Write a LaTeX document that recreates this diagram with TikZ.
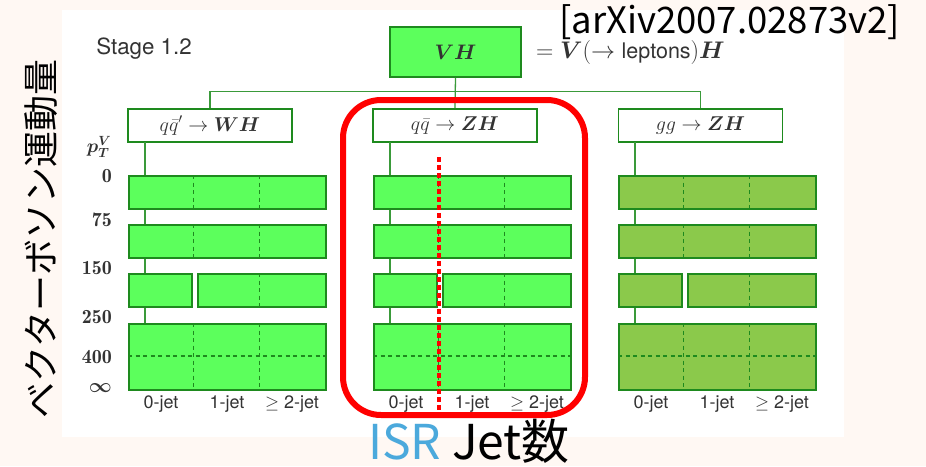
\RequirePackage{fix-cm}
\documentclass[tikz,border=0pt]{standalone}
\usepackage{fontspec}
\usepackage{amsmath}
\setsansfont{TeX Gyre Heros}
\newfontfamily\cjk{Noto Sans CJK JP}
\definecolor{cream}{HTML}{FFF8F3}
\definecolor{brgreen}{HTML}{5CFF5C}
\definecolor{olivegreen}{HTML}{8BC94B}
\definecolor{dkgreen}{HTML}{1E8A1E}
\definecolor{lngreen}{HTML}{3A9A3A}
\definecolor{txt}{HTML}{333333}
\definecolor{isrblue}{HTML}{4BA9DC}
\newcommand\stxscolumn[3]{%
  % #1 left x, #2 fill colour, #3 name prefix
  \coordinate (#3top) at (#1+17,142);
  \coordinate (#3bot) at (#1+17,323);
  \draw[conn] (#3top) -- (#3bot);
  \node[barbox=#2, minimum width=197pt, minimum height=33pt] (#3r1) at (#1,175) {};
  \node[barbox=#2, minimum width=197pt, minimum height=33pt] (#3r2) at (#1,224) {};
  \node[barbox=#2, minimum width=63pt, minimum height=33pt] (#3r3a) at (#1,273) {};
  \node[barbox=#2, minimum width=128pt, minimum height=33pt] (#3r3b) at (#1+69,273) {};
  \node[barbox=#2, minimum width=197pt, minimum height=66pt] (#3r4) at (#1,323) {};
  \draw[dsh] (#1+65.7,175) -- (#1+65.7,208);
  \draw[dsh] (#1+131.3,175) -- (#1+131.3,208);
  \draw[dsh] (#1+65.7,224) -- (#1+65.7,257);
  \draw[dsh] (#1+131.3,224) -- (#1+131.3,257);
  \draw[dsh] (#1+131.3,273) -- (#1+131.3,306);
  \draw[dsh] (#1+65.7,323) -- (#1+65.7,389);
  \draw[dsh] (#1+131.3,323) -- (#1+131.3,389);
  \draw[dsh] (#1,356) -- (#1+197,356);
  \node[jetlbl] (#3j0) at (#1+33,404) {0-jet};
  \node[jetlbl] (#3j1) at (#1+99,404) {1-jet};
  \node[jetlbl] (#3j2) at (#1+164,404) {$\geq$ 2-jet};
}
\begin{document}
\begin{tikzpicture}[x=1pt,y=-1pt,
  hdr/.style={draw=dkgreen, line width=1.8pt, fill=white, minimum width=164pt,
    minimum height=33pt, inner sep=0pt, text=txt, font=\fontsize{20}{24}\selectfont},
  barbox/.style={draw=dkgreen, line width=1.8pt, fill=#1, anchor=north west, inner sep=0pt},
  conn/.style={draw=lngreen, line width=1.3pt},
  dsh/.style={draw=dkgreen, line width=1.2pt, dash pattern=on 4pt off 3.5pt},
  jetlbl/.style={font=\sffamily\fontsize{18}{21}\selectfont, text=txt, inner sep=0pt},
  ptlbl/.style={anchor=east, font=\fontsize{20}{24}\selectfont, text=txt, inner sep=0pt},
]
\useasboundingbox (0,0) rectangle (926,466);
\fill[cream] (0,0) rectangle (926,466);
\fill[white] (62,10) rectangle (844,437);

\node[font=\sffamily\fontsize{22.3}{26}\selectfont, text=txt, inner sep=0pt] (stage) at (144,49) {Stage 1.2};
\node[hdr, fill=brgreen, minimum width=131pt, minimum height=50pt, font=\fontsize{21}{25}\selectfont] (vh) at (455.5,52) {$\boldsymbol{VH}$};
\node[anchor=west, text=txt, font=\fontsize{24}{28}\selectfont, inner sep=0pt] (eq) at (536,52) {$= \boldsymbol{V}(\to \text{\sffamily\fontsize{21.5}{25}\selectfont leptons})\boldsymbol{H}$};
\node[anchor=base west, font=\cjk\fontsize{36.5}{42}\selectfont, inner sep=0pt] (arxiv) at (559,33) {[arXiv2007.02873v2]};

\node[hdr] (wh) at (210,125.5) {$q\bar{q}'\to\boldsymbol{WH}$};
\node[hdr] (zh) at (455,125.5) {$q\bar{q}\to\boldsymbol{ZH}$};
\node[hdr] (gg) at (700.5,125.5) {$gg\to\boldsymbol{ZH}$};
\draw[conn] (vh.south) -- (zh.north);
\draw[conn] (wh.north) -- ++(0,-16.5) -| (gg.north);

\stxscolumn{128}{brgreen}{w}
\stxscolumn{373}{brgreen}{z}
\stxscolumn{618}{olivegreen}{g}

\node[font=\fontsize{19}{22}\selectfont, text=txt, inner sep=0pt] (pt) at (99,147) {$\boldsymbol{p_T^V}$};
\node[ptlbl] (p0) at (112,176) {$\mathbf{0}$};
\node[ptlbl] (p75) at (112,220) {$\mathbf{75}$};
\node[ptlbl] (p150) at (112,268) {$\mathbf{150}$};
\node[ptlbl] (p250) at (112,317) {$\mathbf{250}$};
\node[ptlbl] (p400) at (112,357) {$\mathbf{400}$};
\node[ptlbl] (pinf) at (112,388) {$\boldsymbol{\infty}$};

\draw[red, line width=6pt, rounded corners=38pt] (343,100) rectangle (585,415);
\coordinate (isrtop) at (439,157);
\coordinate (isrbot) at (439,414);
\draw[red, line width=4.5pt, dash pattern=on 4.5pt off 3.5pt] (isrtop) -- (isrbot);

\node[anchor=base west, font=\cjk\fontsize{48}{54}\selectfont, inner sep=0pt] (isr) at (368,459) {\textcolor{isrblue}{ISR} Jet数};
\node[rotate=90, font=\cjk\fontsize{36}{40}\selectfont, inner sep=0pt] (ylab) at (41.5,239) {ベクターボソン運動量};
\end{tikzpicture}
\end{document}
